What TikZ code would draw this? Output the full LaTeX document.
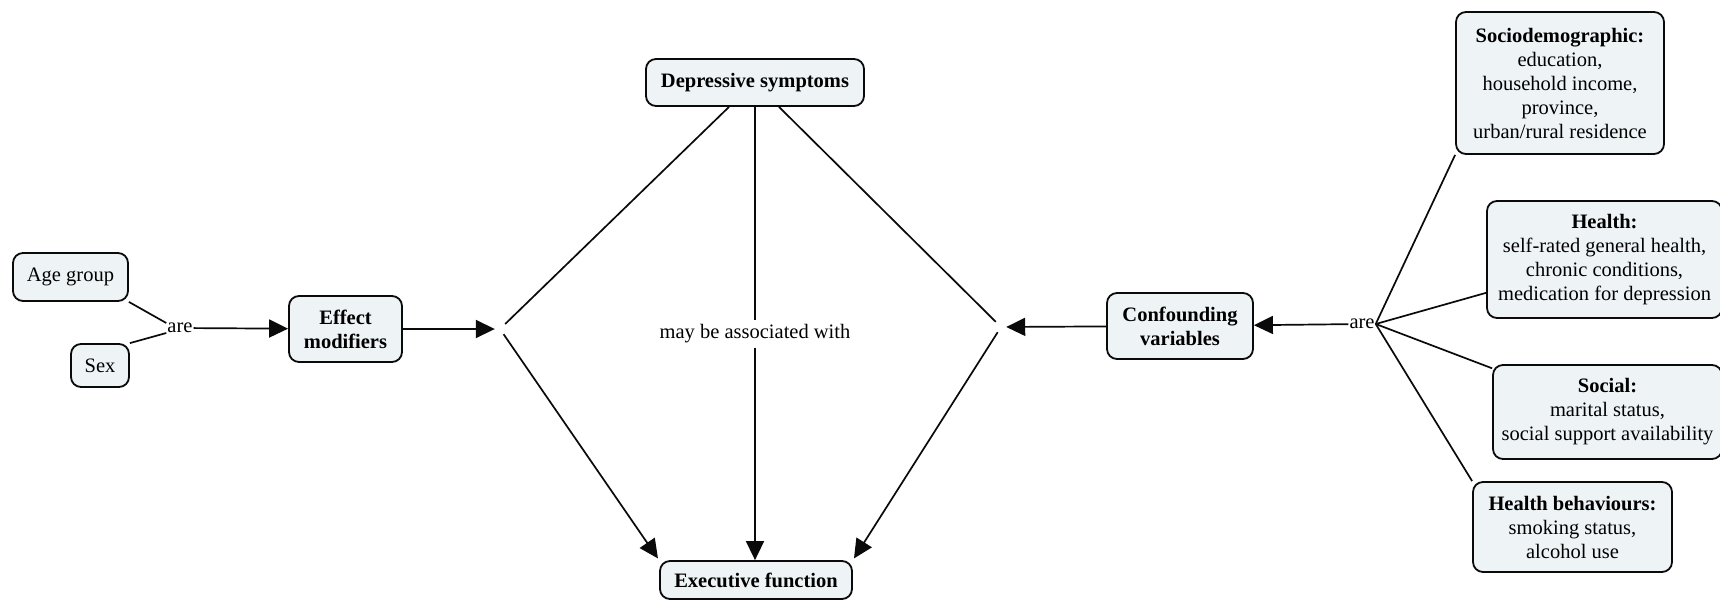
\documentclass[tikz,border=0pt]{standalone}
\usepackage{fontspec}
\setmainfont{Liberation Serif}
\usetikzlibrary{arrows.meta,calc}
\definecolor{boxfill}{RGB}{238,243,246}
\definecolor{ink}{RGB}{10,10,10}
\newcommand{\fs}{\fontsize{20.5}{24}\selectfont}
\begin{document}
\begin{tikzpicture}[x=1pt,y=-1pt,
  box/.style={draw=ink, line width=1.8pt, fill=boxfill, rounded corners=10pt,
    align=center, inner sep=0pt, font=\fs},
  lbl/.style={inner sep=1pt, font=\fs},
  junc/.style={inner sep=0pt, minimum size=10pt},
  conn/.style={draw=ink, line width=1.7pt},
  arr/.style={conn, -{Triangle[length=19pt,width=18pt]}}]
\clip (0,0) rectangle (1720,600);
\fill[white] (0,0) rectangle (1720,600);
% nodes
\node[box, minimum width=115pt, minimum height=48pt] (age) at (70.5,277) {Age group};
\node[box, minimum width=58pt, minimum height=43pt] (sex) at (100,365.5) {Sex};
\node[lbl] (areL) at (180,328) {are};
\node[box, minimum width=113pt, minimum height=66pt, font=\fs\bfseries] (effect) at (345.5,329) {Effect\\modifiers};
\node[junc] (jl) at (500,329) {};
\node[box, minimum width=218pt, minimum height=47pt, font=\fs\bfseries] (dep) at (755,82.5) {Depressive symptoms};
\node[lbl, inner sep=4pt] (assoc) at (755,334) {may be associated with};
\node[box, minimum width=192pt, minimum height=38pt, font=\fs\bfseries] (exec) at (756,580) {Executive function};
\node[junc] (jr) at (1001,327) {};
\node[box, minimum width=146pt, minimum height=66pt, font=\fs\bfseries] (conf) at (1180,326) {Confounding\\variables};
\node[lbl] (areR) at (1362,324) {are};
\node[box, minimum width=208pt, minimum height=142pt] (socio) at (1560,83)
  {\textbf{Sociodemographic:}\\education,\\household income,\\province,\\urban/rural residence};
\node[box, minimum width=235pt, minimum height=117pt] (health) at (1604.5,259.5)
  {\textbf{Health:}\\self-rated general health,\\chronic conditions,\\medication for depression};
\node[box, minimum width=229pt, minimum height=94pt] (social) at (1607.5,412)
  {\textbf{Social:}\\marital status,\\social support availability};
\node[box, minimum width=199pt, minimum height=90pt] (hb) at (1572.5,527)
  {\textbf{Health behaviours:}\\smoking status,\\alcohol use};
% connectors
\coordinate (d1) at ($(dep.south)+(-26,0)$);
\coordinate (d2) at (dep.south);
\coordinate (d3) at ($(dep.south)+(24,0)$);
\draw[conn] (age.south east) -- (areL.160);
\draw[conn] (sex.north east) -- (areL.200);
\draw[arr] (areL) -- (effect);
\draw[arr] (effect) -- (jl);
\draw[conn] (d1) -- (jl);
\draw[conn] (d3) -- (jr);
\draw[conn] (d2) -- (assoc);
\draw[arr] (assoc) -- (d2 |- exec.north);
\draw[arr, shorten >=2pt] (jl) -- (exec.north west);
\draw[arr, shorten >=2pt] (jr) -- (exec.north east);
\draw[arr] (conf) -- (jr);
\draw[arr] (areR) -- (conf);
\draw[conn] (areR.east) -- (socio.south west);
\draw[conn] (areR.east) -- (health);
\draw[conn] (areR.east) -- (social);
\draw[conn] (areR.east) -- (hb.north west);
\end{tikzpicture}
\end{document}
